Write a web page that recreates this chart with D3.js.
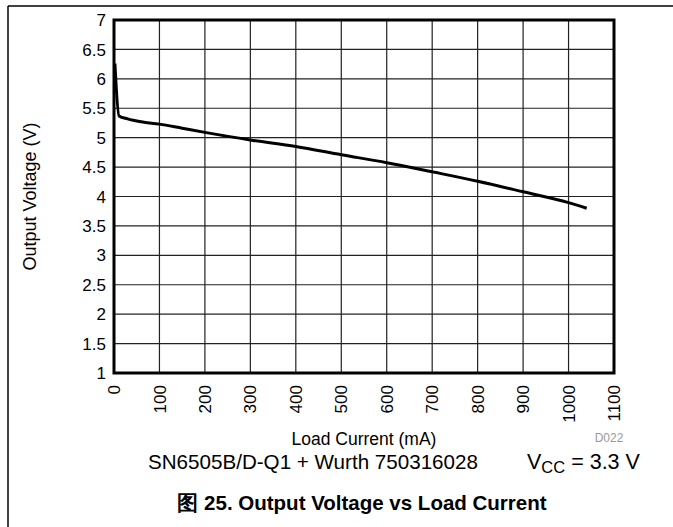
<!DOCTYPE html>
<html><head><meta charset="utf-8">
<script src="https://cdn.jsdelivr.net/npm/d3@7"></script>
<style>
body{margin:0;background:#fff;}
svg text{font-family:"Liberation Sans",Arial,Helvetica,sans-serif;}
</style></head>
<body>
<svg id="c" width="673" height="527"></svg>
<script>
const loadCurrent = [2, 11, 30, 60, 100, 150, 200, 300, 400, 500, 600, 700, 800, 900, 1000, 1040];
const outputVoltage = [6.26, 5.37, 5.32, 5.27, 5.23, 5.16, 5.09, 4.96, 4.85, 4.71, 4.575, 4.42, 4.26, 4.08, 3.895, 3.80];
const xTicks = [0,100,200,300,400,500,600,700,800,900,1000,1100];
const yTicks = [1,1.5,2,2.5,3,3.5,4,4.5,5,5.5,6,6.5,7];
const yTickLabels = ["1","1.5","2","2.5","3","3.5","4","4.5","5","5.5","6","6.5","7"];

const svg = d3.select("#c");
const L=114, R=614, T=20, B=373;
const x = d3.scaleLinear().domain([0,1100]).range([L,R]);
const y = d3.scaleLinear().domain([1,7]).range([B,T]);

// outer frame
svg.append("line").attr("x1",8).attr("x2",673).attr("y1",6).attr("y2",6).attr("stroke","#000").attr("stroke-width",1.5);
svg.append("line").attr("x1",8).attr("x2",8).attr("y1",6).attr("y2",527).attr("stroke","#000").attr("stroke-width",1.5);

// grid
const g = svg.append("g");
g.selectAll(".vg").data(xTicks.slice(1,-1)).join("line")
  .attr("x1",d=>x(d)).attr("x2",d=>x(d)).attr("y1",T).attr("y2",B)
  .attr("stroke","#222").attr("stroke-width",1.2);
g.selectAll(".hg").data(yTicks.slice(1,-1)).join("line")
  .attr("y1",d=>y(d)).attr("y2",d=>y(d)).attr("x1",L).attr("x2",R)
  .attr("stroke","#222").attr("stroke-width",1.2);

// curve
const line = d3.line().x((d,i)=>x(loadCurrent[i])).y(d=>y(d)).curve(d3.curveMonotoneX);
svg.append("path").attr("d",line(outputVoltage)).attr("fill","none").attr("stroke","#000").attr("stroke-width",3);

// plot border
svg.append("rect").attr("x",L).attr("y",T).attr("width",R-L).attr("height",B-T)
  .attr("fill","none").attr("stroke","#000").attr("stroke-width",3);

// y tick labels
svg.selectAll(".yl").data(yTicks).join("text")
  .attr("x",L-8).attr("y",d=>y(d)).attr("dy","0.36em").attr("text-anchor","end")
  .attr("font-size",17).text((d,i)=>yTickLabels[i]);

// x tick labels
svg.selectAll(".xl").data(xTicks).join("text")
  .attr("transform",d=>`translate(${x(d)},${B+12}) rotate(-90)`)
  .attr("dy","0.36em").attr("text-anchor","end")
  .attr("font-size",17).text(d=>d);

// axis titles
svg.append("text").attr("transform",`translate(36,${(T+B)/2}) rotate(-90)`)
  .attr("text-anchor","middle").attr("font-size",18).text("Output Voltage (V)");
svg.append("text").attr("x",(L+R)/2).attr("y",445).attr("text-anchor","middle")
  .attr("font-size",17.5).text("Load Current (mA)");
svg.append("text").attr("x",609).attr("y",442).attr("text-anchor","middle")
  .attr("font-size",12).attr("fill","#999").text("D022");

// subtitle
svg.append("text").attr("x",148).attr("y",469).attr("font-size",20.6).text("SN6505B/D-Q1 + Wurth 750316028");
const vt = svg.append("text").attr("x",527).attr("y",469).attr("font-size",21.5);
vt.append("tspan").text("V");
vt.append("tspan").attr("font-size",16.5).attr("dy",4).text("CC");
vt.append("tspan").attr("dy",-4).text(" = 3.3 V");

// caption
svg.append("text").attr("x",362).attr("y",510).attr("text-anchor","middle")
  .attr("font-size",20.5).attr("font-weight","bold")
  .text("图 25. Output Voltage vs Load Current");
</script>
</body></html>
